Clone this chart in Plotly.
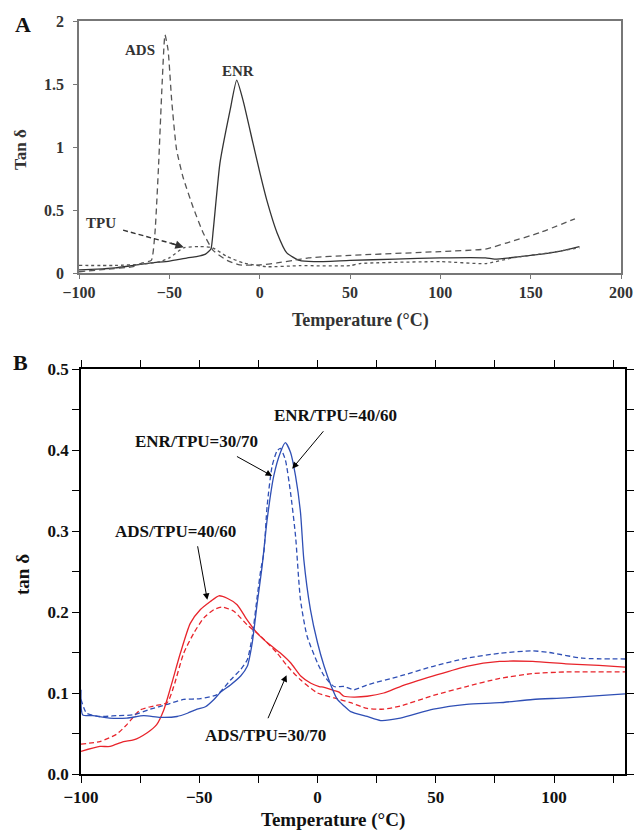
import plotly.graph_objects as go

# ---------- Panel A data ----------
enr_x = [-100, -90, -80, -70, -60, -50, -40, -35, -30, -27, -25.7, -22, -16.4, -12.7, -9.2, -3.7, 0.2, 3.9, 9.6, 15, 22, 30, 50, 75, 100, 125, 130, 150, 165, 177]
enr_y = [0.025, 0.03, 0.04, 0.06, 0.08, 0.095, 0.12, 0.13, 0.15, 0.19, 0.34, 0.87, 1.29, 1.53, 1.37, 1.03, 0.79, 0.58, 0.32, 0.16, 0.10, 0.09, 0.10, 0.11, 0.12, 0.12, 0.11, 0.14, 0.17, 0.21]

ads_x = [-100, -85, -70, -65, -60, -58, -56, -54, -52.4, -50.7, -48.7, -46, -42.4, -36.8, -31.3, -25.8, -18, -11, 0, 9.6, 18.5, 27, 50, 100, 125, 137, 155, 174.5]
ads_y = [0.01, 0.03, 0.05, 0.08, 0.10, 0.31, 0.84, 1.5, 1.89, 1.77, 1.37, 0.98, 0.76, 0.52, 0.32, 0.18, 0.10, 0.064, 0.064, 0.08, 0.10, 0.12, 0.14, 0.17, 0.19, 0.24, 0.32, 0.43]

tpu_x = [-100, -80, -65, -55, -50, -42, -33, -26, -18, -9, 4, 22, 50, 55.5, 100, 125, 140, 160, 177]
tpu_y = [0.06, 0.06, 0.07, 0.09, 0.12, 0.20, 0.21, 0.20, 0.13, 0.08, 0.05, 0.058, 0.058, 0.075, 0.09, 0.075, 0.12, 0.16, 0.20]

# ---------- Panel B data ----------
ads40_x = [-100, -92, -87.7, -82, -77.8, -72, -68, -65, -62, -58, -53.8, -49.5, -45.3, -41.7, -38.2, -34, -29.7, -25.5, -21.2, -15.6, -11.3, -7.1, -2.8, 0.7, 2.8, 7, 9.1, 11.2, 15.4, 21, 28, 35, 49, 63, 77, 91, 105, 119, 130]
ads40_y = [0.028, 0.034, 0.034, 0.040, 0.042, 0.051, 0.061, 0.079, 0.108, 0.149, 0.186, 0.203, 0.213, 0.220, 0.217, 0.209, 0.190, 0.174, 0.162, 0.149, 0.137, 0.121, 0.112, 0.108, 0.107, 0.103, 0.101, 0.096, 0.095, 0.096, 0.100, 0.108, 0.121, 0.133, 0.139, 0.139, 0.136, 0.134, 0.132]

ads30_x = [-100, -92, -85, -80.6, -75, -69.3, -63.6, -60.8, -56.6, -52.3, -48, -43.8, -40.3, -35.4, -29.7, -24, -17, -12.7, -7.1, 0, 7, 14, 21, 28, 35, 49, 63, 77, 91, 105, 130]
ads30_y = [0.037, 0.040, 0.049, 0.061, 0.079, 0.084, 0.088, 0.108, 0.149, 0.174, 0.193, 0.203, 0.206, 0.201, 0.184, 0.170, 0.149, 0.133, 0.116, 0.100, 0.094, 0.088, 0.081, 0.080, 0.084, 0.097, 0.108, 0.118, 0.124, 0.126, 0.126]

enr40_x = [-100, -99.3, -95, -88, -80.6, -73.5, -66.5, -59.4, -55, -50.9, -47.4, -43.8, -41, -36.8, -32.5, -29.7, -27.6, -25.5, -23.4, -21.3, -18.5, -15.7, -13.6, -11.4, -9.3, -7.2, -5.8, -3, 0, 2.8, 5.6, 8.4, 11.2, 14, 21, 26.7, 35, 49, 63, 77, 91, 105, 130]
enr40_y = [0.104, 0.073, 0.072, 0.069, 0.069, 0.072, 0.070, 0.071, 0.075, 0.080, 0.083, 0.092, 0.101, 0.110, 0.121, 0.133, 0.162, 0.211, 0.257, 0.314, 0.368, 0.397, 0.409, 0.397, 0.368, 0.323, 0.265, 0.203, 0.162, 0.133, 0.110, 0.092, 0.084, 0.077, 0.071, 0.066, 0.069, 0.080, 0.086, 0.088, 0.092, 0.094, 0.099]

enr30_x = [-100, -97.6, -92, -85, -78, -70.7, -63.6, -56.6, -49.5, -42.4, -36.8, -32.5, -29.7, -27.6, -25.5, -24, -22.7, -21.3, -19.2, -17.1, -15.7, -13.6, -11.4, -9.3, -7.2, -4.4, 0, 2.8, 7, 11.2, 15.4, 21, 35, 49, 63, 77, 91, 98, 112, 130]
enr30_y = [0.092, 0.075, 0.071, 0.072, 0.073, 0.080, 0.086, 0.092, 0.093, 0.098, 0.116, 0.129, 0.141, 0.170, 0.219, 0.252, 0.273, 0.331, 0.380, 0.399, 0.402, 0.388, 0.347, 0.294, 0.215, 0.170, 0.137, 0.121, 0.108, 0.108, 0.104, 0.110, 0.121, 0.133, 0.143, 0.149, 0.152, 0.150, 0.143, 0.142]

W, H = 635, 831
SERIF = "Liberation Serif, Times New Roman, serif"
RED = "#e8242b"
BLUE = "#2f4fb5"

fig = go.Figure()

# Panel A traces
fig.add_trace(go.Scatter(x=enr_x, y=enr_y, mode="lines", line=dict(color="#333333", width=1.3, shape="spline", smoothing=0.5), xaxis="x", yaxis="y"))
fig.add_trace(go.Scatter(x=ads_x, y=ads_y, mode="lines", line=dict(color="#555555", width=1.3, dash="6px,4px", shape="spline", smoothing=0.5), xaxis="x", yaxis="y"))
fig.add_trace(go.Scatter(x=tpu_x, y=tpu_y, mode="lines", line=dict(color="#555555", width=1.3, dash="dot", shape="spline", smoothing=0.5), xaxis="x", yaxis="y"))

# Panel B traces
fig.add_trace(go.Scatter(x=ads40_x, y=ads40_y, mode="lines", line=dict(color=RED, width=1.3, shape="spline", smoothing=0.6), xaxis="x2", yaxis="y2"))
fig.add_trace(go.Scatter(x=ads30_x, y=ads30_y, mode="lines", line=dict(color=RED, width=1.3, dash="5px,3px", shape="spline", smoothing=0.6), xaxis="x2", yaxis="y2"))
fig.add_trace(go.Scatter(x=enr40_x, y=enr40_y, mode="lines", line=dict(color=BLUE, width=1.3, shape="spline", smoothing=0.6), xaxis="x2", yaxis="y2"))
fig.add_trace(go.Scatter(x=enr30_x, y=enr30_y, mode="lines", line=dict(color=BLUE, width=1.3, dash="5px,3px", shape="spline", smoothing=0.6), xaxis="x2", yaxis="y2"))

axA = dict(showgrid=False, zeroline=False, showline=True, linecolor="#777777", linewidth=1.5, mirror=True, automargin=False,
           ticks="outside", ticklen=4, tickcolor="#777777",
           tickfont=dict(family=SERIF, size=16, color="#333333", weight="bold"))
axB = dict(showgrid=False, zeroline=False, showline=True, linecolor="black", linewidth=1.6, mirror="ticks", automargin=False,
           ticks="outside", ticklen=7, tickwidth=1.2, tickcolor="black",
           tickfont=dict(family=SERIF, size=17, color="#111111", weight="bold"))

fig.update_layout(
    width=W, height=H, paper_bgcolor="white", plot_bgcolor="white", showlegend=False, autosize=False,
    margin=dict(l=0, r=0, t=0, b=0, autoexpand=False),
    xaxis=dict(axA, domain=[79/W, 621/W], range=[-100, 200], tickvals=[-100, -50, 0, 50, 100, 150, 200],
               ticklabelstandoff=0, anchor="y"),
    yaxis=dict(axA, domain=[1-273/H, 1-21/H], range=[0, 2], tickvals=[0, 0.5, 1, 1.5, 2], ticktext=["0", "0.5", "1", "1.5", "2"],
               ticklabelstandoff=6, anchor="x"),
    xaxis2=dict(axB, domain=[81/W, 625/W], range=[-100, 130], tick0=-100, dtick=50,
                minor=dict(dtick=25, tick0=-100, ticks="outside", ticklen=7, tickcolor="black", tickwidth=1.2), anchor="y2"),
    yaxis2=dict(axB, domain=[1-774/H, 1-369/H], range=[0, 0.5], dtick=0.1, tickformat=".1f",
                minor=dict(dtick=0.05, ticks="outside", ticklen=7, tickcolor="black", tickwidth=1.2), anchor="x2"),
)

annA = dict(font=dict(family=SERIF, size=15, color="#333333", weight="bold"), showarrow=False, xref="x", yref="y")
annB = dict(font=dict(family=SERIF, size=17, color="#111111", weight="bold"), xref="x2", yref="y2")

anns = [
    dict(annA, text="ADS", x=-66, y=1.77),
    dict(annA, text="ENR", x=-12, y=1.6),
    dict(annA, text="TPU", x=-88, y=0.4),
    # TPU arrowhead
    dict(xref="x", yref="y", axref="x", ayref="y", x=-42, y=0.205, ax=-50, ay=0.24, text="", showarrow=True,
         arrowhead=2, arrowsize=1.2, arrowwidth=1.4, arrowcolor="#333333"),
    # panel letters
    dict(text="<b>A</b>", xref="paper", yref="paper", x=23/W, y=1-25/H, xanchor="center", yanchor="middle", showarrow=False,
         font=dict(family=SERIF, size=22, color="#111111")),
    dict(text="<b>B</b>", xref="paper", yref="paper", x=20/W, y=1-362/H, xanchor="center", yanchor="middle", showarrow=False,
         font=dict(family=SERIF, size=22, color="#111111")),
    # axis titles
    dict(text="<b>Temperature (°C)</b>", xref="paper", yref="paper", x=360/W, y=1-320/H, xanchor="center", yanchor="middle", showarrow=False,
         font=dict(family=SERIF, size=18, color="#333333")),
    dict(text="<b>Tan δ</b>", xref="paper", yref="paper", x=20/W, y=1-150/H, xanchor="center", yanchor="middle", showarrow=False, textangle=-90,
         font=dict(family=SERIF, size=17, color="#333333")),
    dict(text="<b>Temperature (°C)</b>", xref="paper", yref="paper", x=333/W, y=1-820/H, xanchor="center", yanchor="middle", showarrow=False,
         font=dict(family=SERIF, size=19, color="#111111")),
    dict(text="<b>tan δ</b>", xref="paper", yref="paper", x=22/W, y=1-575/H, xanchor="center", yanchor="middle", showarrow=False, textangle=-90,
         font=dict(family=SERIF, size=19, color="#111111")),
    # panel B labels
    dict(annB, text="ENR/TPU=40/60", x=7.6, y=0.442, showarrow=False),
    dict(annB, text="ENR/TPU=30/70", x=-51.3, y=0.41, showarrow=False),
    dict(annB, text="ADS/TPU=40/60", x=-60.2, y=0.299, showarrow=False),
    dict(annB, text="ADS/TPU=30/70", x=-22, y=0.048, showarrow=False),
]
for (hx, hy, tx, ty) in [(-10.7, 0.377, 3.0, 0.425), (-19.2, 0.368, -34.7, 0.393), (-46.6, 0.215, -50.8, 0.283), (-13.1, 0.122, -21.2, 0.067)]:
    anns.append(dict(xref="x2", yref="y2", axref="x2", ayref="y2", x=hx, y=hy, ax=tx, ay=ty, text="", showarrow=True,
                     arrowhead=2, arrowsize=1.3, arrowwidth=1.0, arrowcolor="black"))
fig.update_layout(annotations=anns)

# dashed TPU arrow shaft
fig.add_shape(type="line", xref="x", yref="y", x0=-75.6, y0=0.34, x1=-45, y1=0.22, line=dict(color="#333333", width=1.4, dash="5px,3px"))

fig.write_html("out.html")
